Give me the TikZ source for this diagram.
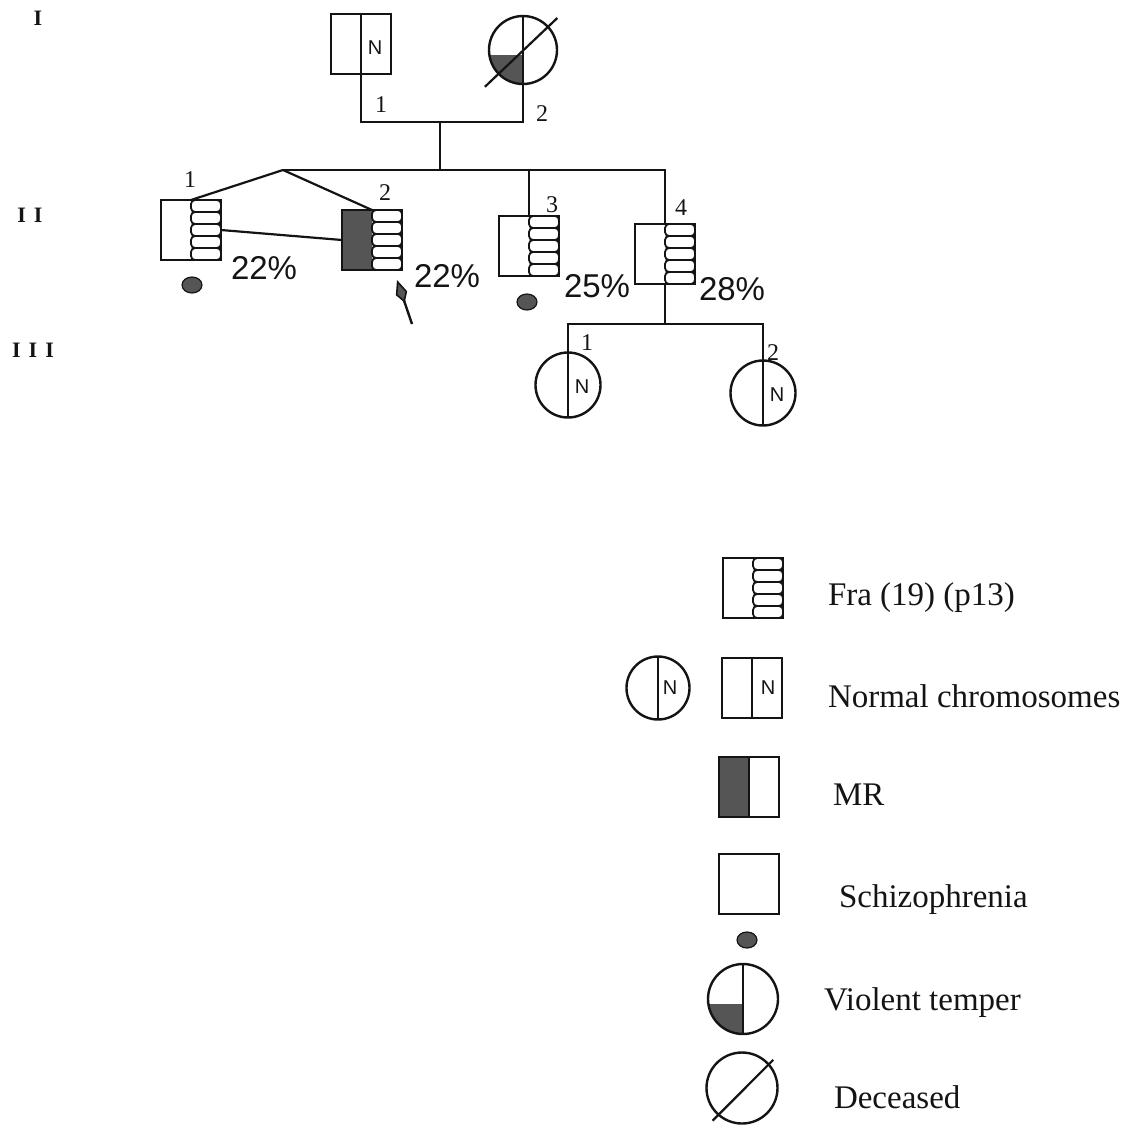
\documentclass[tikz,border=0pt]{standalone}
\usepackage{fontspec}
\setmainfont{Liberation Serif}
\newfontfamily\pctfont{Liberation Sans}
\usepackage{xcolor}
\definecolor{ink}{HTML}{141414}
\definecolor{stipple}{HTML}{555555}
\usetikzlibrary{arrows.meta,positioning,calc,shapes.geometric}
\newcommand\frastripes{%
  \foreach \k in {0,...,4}
    \draw[stripe] ([yshift=-\k*6pt]path picture bounding box.north) rectangle ++(15pt,-6pt);}
\tikzset{
  every picture/.style={line width=1pt, color=ink},
  indiv/.style={draw=ink, line width=1.2pt, inner sep=0pt, outer sep=0pt},
  plainbox/.style={indiv, rectangle, minimum width=30pt, minimum height=30pt},
  normalbox/.style={plainbox, path picture={\draw (path picture bounding box.north) -- (path picture bounding box.south);}},
  frabox/.style={plainbox, path picture={\frastripes}},
  mrfrabox/.style={plainbox, path picture={\fill[stipple] (path picture bounding box.north west) rectangle (path picture bounding box.south); \frastripes}},
  mrbox/.style={plainbox, path picture={\fill[stipple] (path picture bounding box.north west) rectangle (path picture bounding box.south); \draw (path picture bounding box.north) -- (path picture bounding box.south);}},
  femcirc/.style={indiv, circle, minimum size=#1},
  femcirc/.default=33pt,
  normalcirc/.style={femcirc=#1, path picture={\draw (path picture bounding box.north) -- (path picture bounding box.south);}},
  normalcirc/.default=33pt,
  tempcirc/.style={femcirc=#1, path picture={\fill[stipple] ([yshift=-2.5pt]path picture bounding box.center) rectangle (path picture bounding box.south west); \draw (path picture bounding box.north) -- (path picture bounding box.south);}},
  tempcirc/.default=34pt,
  stripe/.style={line width=0.9pt, rounded corners=2pt},
  slash/.style={line width=1.1pt},
  spot/.style={ellipse, draw=ink, fill=stipple, line width=0.6pt, minimum width=10pt, minimum height=8pt, inner sep=0pt},
  link/.style={line width=1.1pt},
  proband/.style={-{Kite[length=12pt, width=6pt, inset=5pt, fill=stipple, line width=0.8pt]}, line width=1.2pt},
  gen/.style={font=\fontsize{11}{13}\selectfont\bfseries, inner sep=0pt},
  num/.style={font=\fontsize{12}{14}\selectfont, inner sep=0pt},
  pct/.style={font=\pctfont\fontsize{16.5}{18}\selectfont, inner sep=0pt, anchor=base west},
  nmark/.style={font=\pctfont\fontsize{10}{12}\selectfont, inner sep=0pt},
  legtext/.style={font=\fontsize{16.5}{19}\selectfont, inner sep=0pt, anchor=base west},
}
\begin{document}
\begin{tikzpicture}[x=0.5pt, y=-0.5pt]
  \useasboundingbox (0,0) rectangle (1127,1131);
  % generations
  \node[gen] (g1) at (38,18) {I};
  \node[gen] (g2) at (30,215) {I\kern4pt I};
  \node[gen] (g3) at (33,350) {I\kern4pt I\kern4pt I};

  % generation I
  \node[normalbox] (i1) at (361,44) {};
  \node[tempcirc=34pt] (i2) at (523,50) {};
  \draw[slash] ($(i2.center)+(224:26.5pt)$) -- ($(i2.center)+(43:23.5pt)$);
  \node[nmark] (n-i1) at ([xshift=7pt,yshift=-2pt]i1.center) {N};
  \node[num] (l-i1) at (381,105) {1};
  \node[num] (l-i2) at (542,114) {2};
  \coordinate (m1) at (440,122);
  \coordinate (tw) at (283,170);
  \draw[link] (i1.south) -- ++(0,48) -| (i2.south);
  \draw[link] (m1) -- (m1 |- tw);

  % generation II
  \node[frabox] (s1) at (191,230) {};
  \node[mrfrabox] (s2) at (372,240) {};
  \node[frabox] (s3) at (529,246) {};
  \node[frabox] (s4) at (665,254) {};
  \node[num] (l-s1) at (190,180) {1};
  \node[num] (l-s2) at (385,193) {2};
  \node[num] (l-s3) at (552,205) {3};
  \node[num] (l-s4) at (681,208) {4};
  \draw[link] (tw) -- (tw -| s4.north) -- (s4.north);
  \draw[link] (s3.north |- tw) -- (s3.north);
  \draw[link] (tw) -- (s1.north);
  \draw[link] (tw) -- (s2.north);
  \draw[link] (s1.east) -- (s2.west);
  \node[pct] (p1) at (230,279) {22\%};
  \node[pct] (p2) at (413,287) {22\%};
  \node[pct] (p3) at (563,297) {25\%};
  \node[pct] (p4) at (698,300) {28\%};
  \node[spot] (d1) at (192,285) {};
  \node[spot] (d3) at (527,302) {};
  \coordinate (pb) at (412,324);
  \coordinate (pt) at (397,280);
  \draw[proband] (pb) -- (pt);

  % generation III
  \coordinate (c3) at ($(s4.south)+(0,40)$);
  \node[normalcirc=32.5pt] (t1) at (568,385) {};
  \node[normalcirc=32.5pt] (t2) at (763,393) {};
  \node[nmark] (n-t1) at ([xshift=7pt,yshift=-1pt]t1.center) {N};
  \node[nmark] (n-t2) at ([xshift=7pt,yshift=-1pt]t2.center) {N};
  \node[num] (l-t1) at (587,343) {1};
  \node[num] (l-t2) at (773,353) {2};
  \draw[link] (s4.south) -- (c3);
  \draw[link] (t1.north) -- (t1.north |- c3) -- (t2.north |- c3) -- (t2.north);

  % legend
  \node[frabox] (lf) at (753,588) {};
  \node[normalcirc=31.5pt] (ln) at (658,688) {};
  \node[normalbox] (lnb) at (752,688) {};
  \node[nmark] (n-ln) at ([xshift=6pt]ln.center) {N};
  \node[nmark] (n-lnb) at ([xshift=8pt]lnb.center) {N};
  \node[mrbox] (lm) at (749,787) {};
  \node[plainbox] (ls) at (749,884) {};
  \node[spot] (ld) at (747,940) {};
  \node[tempcirc=35pt] (lv) at (743,999) {};
  \node[femcirc=35.5pt] (lx) at (742,1088) {};
  \draw[slash] ($(lx.center)+(228:22pt)$) -- ($(lx.center)+(42:21pt)$);
  \node[legtext] (t-fra) at (827,605) {Fra (19) (p13)};
  \node[legtext] (t-norm) at (827,707) {Normal chromosomes};
  \node[legtext] (t-mr) at (832,805) {MR};
  \node[legtext] (t-sch) at (838,907) {Schizophrenia};
  \node[legtext] (t-vio) at (823,1010) {Violent temper};
  \node[legtext] (t-dec) at (833,1108) {Deceased};
\end{tikzpicture}
\end{document}
